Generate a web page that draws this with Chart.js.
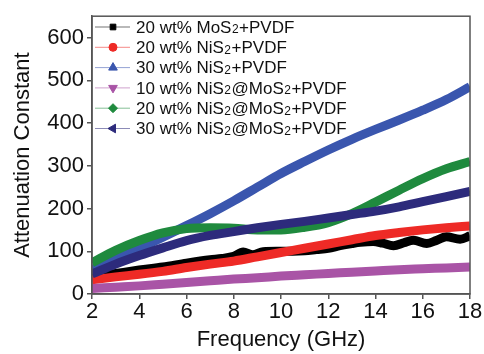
<!DOCTYPE html>
<html>
<head>
<meta charset="utf-8">
<script src="https://cdn.jsdelivr.net/npm/chart.js@4.4.0/dist/chart.umd.js"></script>
<style>
  body { margin: 0; background: #fff; }
  canvas { display: block; }
</style>
</head>
<body>
<canvas id="attChart" width="484" height="354"></canvas>
<script>
// Data
const freqs = [2, 3, 4, 5, 6, 7, 8, 9, 10, 11, 12, 13, 14, 15, 16, 17, 18];
const blackFreqs = [2, 3, 4, 5, 6, 7, 7.5, 8, 8.4, 8.8, 9.25, 9.8, 10.5, 11, 11.5, 12, 12.5, 13, 13.35, 13.9, 14.3, 14.76, 15.2, 15.6, 16.17, 16.6, 17, 17.58, 18];
const mos2_20 = [40, 48, 56, 63, 72, 80, 83, 88, 98, 92, 99, 100, 100, 101, 104, 107, 113, 118, 121, 123, 119, 113, 120, 126, 118, 126, 134, 128, 136];
const nis2_20 = [33, 40, 46, 53, 62, 70, 77, 87, 97, 107, 117, 127, 137, 144, 150, 155, 159];
const nis2_30 = [57, 83, 107, 133, 160, 188, 218, 250, 282, 310, 337, 362, 385, 407, 430, 455, 485];
const comp_10 = [13, 16, 19, 23, 27, 31, 35, 38, 42, 45, 48, 51, 54, 57, 59, 61, 63];
const comp_20 = [73, 102, 125, 143, 153, 155, 154, 150, 150, 156, 167, 188, 215, 243, 270, 293, 310];
const comp_30 = [47, 70, 90, 108, 125, 137, 146, 155, 163, 170, 178, 186, 194, 204, 216, 228, 240];
const yTicks = [0, 100, 200, 300, 400, 500, 600];

const seriesLabels = [
  '20 wt% MoS₂+PVDF',
  '20 wt% NiS₂+PVDF',
  '30 wt% NiS₂+PVDF',
  '10 wt% NiS₂@MoS₂+PVDF',
  '20 wt% NiS₂@MoS₂+PVDF',
  '30 wt% NiS₂@MoS₂+PVDF'
];
const seriesColors = ['#000000', '#ee2a26', '#3a56ae', '#a954a6', '#1f8a3e', '#2d2b7c'];
const markerStyles = [
  { style: 'rect', rot: 0, r: 4 },
  { style: 'circle', rot: 0, r: 4 },
  { style: 'triangle', rot: 0, r: 5 },
  { style: 'triangle', rot: 180, r: 5 },
  { style: 'rectRot', rot: 0, r: 4.5 },
  { style: 'triangle', rot: -90, r: 5 }
];

const FONT = '"Liberation Sans", Arial, sans-serif';

function toPoints(xs, ys) {
  return ys.map((y, i) => ({ x: xs[i], y: y }));
}

const seriesData = [
  toPoints(blackFreqs, mos2_20),
  toPoints(freqs, nis2_20),
  toPoints(freqs, nis2_30),
  toPoints(freqs, comp_10),
  toPoints(freqs, comp_20),
  toPoints(freqs, comp_30)
];

const datasets = seriesData.map((pts, i) => ({
  label: seriesLabels[i],
  data: pts,
  borderColor: seriesColors[i],
  backgroundColor: seriesColors[i],
  borderWidth: 9,
  pointRadius: 0,
  cubicInterpolationMode: 'monotone',
  clip: 0,
  order: seriesData.length - i
}));

// box around the plot
const framePlugin = {
  id: 'frame',
  afterDatasetsDraw(chart) {
    const { ctx, chartArea: a } = chart;
    ctx.save();
    ctx.strokeStyle = '#555';
    ctx.lineWidth = 1.5;
    ctx.strokeRect(a.left, a.top, a.right - a.left, a.bottom - a.top);
    ctx.restore();
  }
};

// draws a label, turning ₂ into a small lowered 2
function drawLabel(ctx, text, x, y) {
  const parts = text.split('₂');
  let cx = x;
  parts.forEach((p, i) => {
    ctx.font = '17px ' + FONT;
    ctx.fillText(p, cx, y);
    cx += ctx.measureText(p).width;
    if (i < parts.length - 1) {
      ctx.font = '12px ' + FONT;
      ctx.fillText('2', cx + 0.5, y + 2);
      cx += ctx.measureText('2').width + 1;
    }
  });
}

const legendPlugin = {
  id: 'sideLegend',
  afterDraw(chart) {
    const ctx = chart.ctx;
    const x0 = 95, x1 = 130, xm = 113, xt = 136;
    const y0 = 27, dy = 20.3;
    ctx.save();
    chart.data.datasets.forEach((ds, i) => {
      const y = y0 + i * dy;
      ctx.strokeStyle = ds.borderColor;
      ctx.globalAlpha = 0.55;
      ctx.lineWidth = 1;
      ctx.beginPath();
      ctx.moveTo(x0, y);
      ctx.lineTo(x1, y);
      ctx.stroke();
      ctx.globalAlpha = 1;
      const m = markerStyles[i];
      ctx.fillStyle = ds.borderColor;
      ctx.strokeStyle = ds.borderColor;
      Chart.helpers.drawPoint(ctx, {
        pointStyle: m.style, radius: m.r, rotation: m.rot, borderWidth: 1
      }, xm, y);
      ctx.fillStyle = '#111';
      ctx.textBaseline = 'middle';
      drawLabel(ctx, ds.label, xt, y + 1);
    });
    ctx.restore();
  }
};

new Chart(document.getElementById('attChart'), {
  type: 'line',
  data: { datasets: datasets },
  options: {
    responsive: false,
    animation: false,
    devicePixelRatio: 1,
    layout: { padding: { top: 13, right: 14, left: 0, bottom: 0 } },
    plugins: {
      legend: { display: false },
      tooltip: { enabled: false }
    },
    scales: {
      x: {
        type: 'linear',
        min: 2,
        max: 18,
        ticks: { stepSize: 2, color: '#111', font: { family: FONT, size: 22 }, padding: 0, maxRotation: 0 },
        grid: { drawOnChartArea: false, tickLength: 5, color: '#555', lineWidth: 1.5 },
        border: { color: '#555', width: 1.5 },
        title: {
          display: true, text: 'Frequency (GHz)', color: '#111',
          font: { family: FONT, size: 22 }, padding: { top: 0, bottom: 1 }
        },
        afterFit(scale) { scale.height = 60; }
      },
      y: {
        min: 0,
        max: 650,
        ticks: { color: '#111', font: { family: FONT, size: 22 }, padding: 3 },
        afterBuildTicks(scale) {
          scale.ticks = yTicks.map(v => ({ value: v }));
        },
        grid: { drawOnChartArea: false, tickLength: 5, color: '#555', lineWidth: 1.5 },
        border: { color: '#555', width: 1.5 },
        title: {
          display: true, text: 'Attenuation Constant', color: '#111',
          font: { family: FONT, size: 22 }, padding: { top: 10, bottom: 0 }
        },
        afterFit(scale) { scale.width = 92; }
      }
    }
  },
  plugins: [framePlugin, legendPlugin]
});
</script>
</body>
</html>
